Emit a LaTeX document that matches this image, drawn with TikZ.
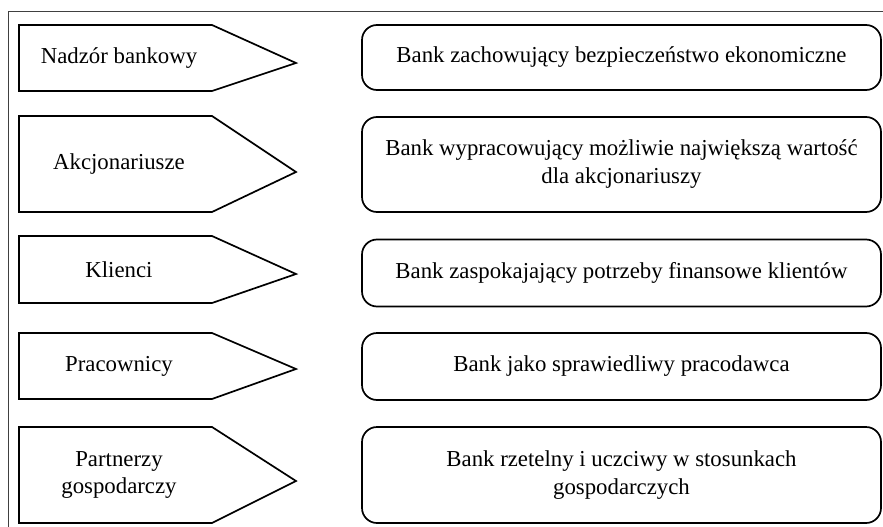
\documentclass[tikz,border=0pt]{standalone}
\usepackage{fontspec}
\setmainfont{Liberation Serif}
\begin{document}
\begin{tikzpicture}[x=1pt,y=-1pt,
  shapeline/.style={draw=black, line width=1.7pt, line join=miter},
  lbl/.style={font=\fontsize{22.8}{27.5}\selectfont, align=center, inner sep=0pt},
  rbox/.style={draw=black, line width=1.7pt, rounded corners=15pt, minimum width=519pt, align=center, inner sep=0pt, font=\fontsize{22.8}{28}\selectfont},
  frameline/.style={draw=black!75, line width=1pt}]
\useasboundingbox (0,0) rectangle (883,527);
% frame
\coordinate (fa) at (8,527);
\coordinate (fb) at (8,12);
\coordinate (fc) at (883,12);
\draw[frameline] (fa) -- (fb) -- (fc);
% pentagons
\foreach \t/\b/\m [count=\i] in {25/91/63, 116/212/172, 236/303/274, 333/399/369, 427/523/481}{
  \draw[shapeline] (19,\t) -- (212,\t) -- (296,\m) -- (212,\b) -- (19,\b) -- cycle;
}
\node[lbl] (p1) at (119,58) {Nadzór bankowy};
\node[lbl] (p2) at (119,164) {Akcjonariusze};
\node[lbl] (p3) at (119,269.5) {Klienci};
\node[lbl] (p4) at (119,366) {Pracownicy};
\node[lbl] (p5) at (119,475) {Partnerzy\\gospodarczy};
% rounded boxes
\node[rbox, minimum height=65pt] (r1) at (621.5,57.5) {Bank zachowujący bezpieczeństwo ekonomiczne};
\node[rbox, minimum height=95pt] (r2) at (621.5,164.5) {Bank wypracowujący możliwie największą wartość\\dla akcjonariuszy};
\node[rbox, minimum height=67pt] (r3) at (621.5,273) {Bank zaspokajający potrzeby finansowe klientów};
\node[rbox, minimum height=67pt] (r4) at (621.5,366.5) {Bank jako sprawiedliwy pracodawca};
\node[rbox, minimum height=96pt] (r5) at (621.5,475) {Bank rzetelny i uczciwy w stosunkach\\gospodarczych};
\end{tikzpicture}
\end{document}
